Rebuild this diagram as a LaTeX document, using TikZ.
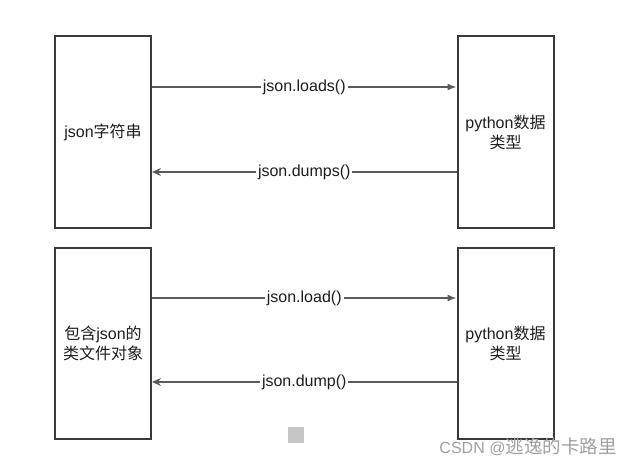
\documentclass[tikz,border=0pt]{standalone}
\usepackage{fontspec}
\setmainfont{Liberation Sans}
\newfontfamily\cjk{Noto Sans CJK SC}
\usetikzlibrary{arrows.meta}
\definecolor{boxcol}{HTML}{3A3A3A}
\definecolor{linecol}{HTML}{5A5A5A}
\definecolor{txtcol}{HTML}{1E1E1E}
\definecolor{wmcol}{HTML}{A0A0A0}
\tikzset{
  box/.style={draw=boxcol, line width=2pt, minimum width=96pt, minimum height=191pt, inner sep=0pt,
    align=center, text=txtcol, font=\fontsize{16}{18}\selectfont},
  conn/.style={draw=linecol, line width=1.4pt},
  fwd/.style={conn, -{Latex[length=9pt,width=7pt]}},
  bwd/.style={conn, -{Stealth[length=9pt,width=8pt,inset=3pt]}},
  lbl/.style={fill=white, text=txtcol, inner sep=2pt, font=\fontsize{16}{18}\selectfont}
}
\begin{document}
\begin{tikzpicture}[x=1pt,y=-1pt]
\useasboundingbox (0,0) rectangle (640,468);
\fill[white] (0,0) rectangle (640,468);
% boxes
\node[box] (js) at (103,132) {json{\cjk 字符串}};
\node[box] (py1) at (505.5,132) {python{\cjk 数据}\\[2pt]{\cjk 类型}};
\node[box] (fo) at (103,343) {{\cjk 包含}json{\cjk 的}\\[2pt]{\cjk 类文件对象}};
\node[box] (py2) at (505.5,343) {python{\cjk 数据}\\[2pt]{\cjk 类型}};
% connectors
\draw[fwd] ([yshift=45pt]js.east) -- node[lbl] (l1) {json.loads()} ([yshift=45pt]py1.west);
\draw[bwd] ([yshift=-40pt]py1.west) -- node[lbl] (l2) {json.dumps()} ([yshift=-40pt]js.east);
\draw[fwd] ([yshift=45pt]fo.east) -- node[lbl] (l3) {json.load()} ([yshift=45pt]py2.west);
\draw[bwd] ([yshift=-39pt]py2.west) -- node[lbl] (l4) {json.dump()} ([yshift=-39pt]fo.east);
% small gray square
\fill[gray!45] (288,427) rectangle (304,443);
% watermark
\node[text=wmcol, anchor=center, inner sep=0pt] (wm) at (528,447)
  {\fontsize{16}{18}\selectfont CSDN @{\cjk\fontsize{18.5}{20}\selectfont 逃逸的卡路里}};
\end{tikzpicture}
\end{document}
